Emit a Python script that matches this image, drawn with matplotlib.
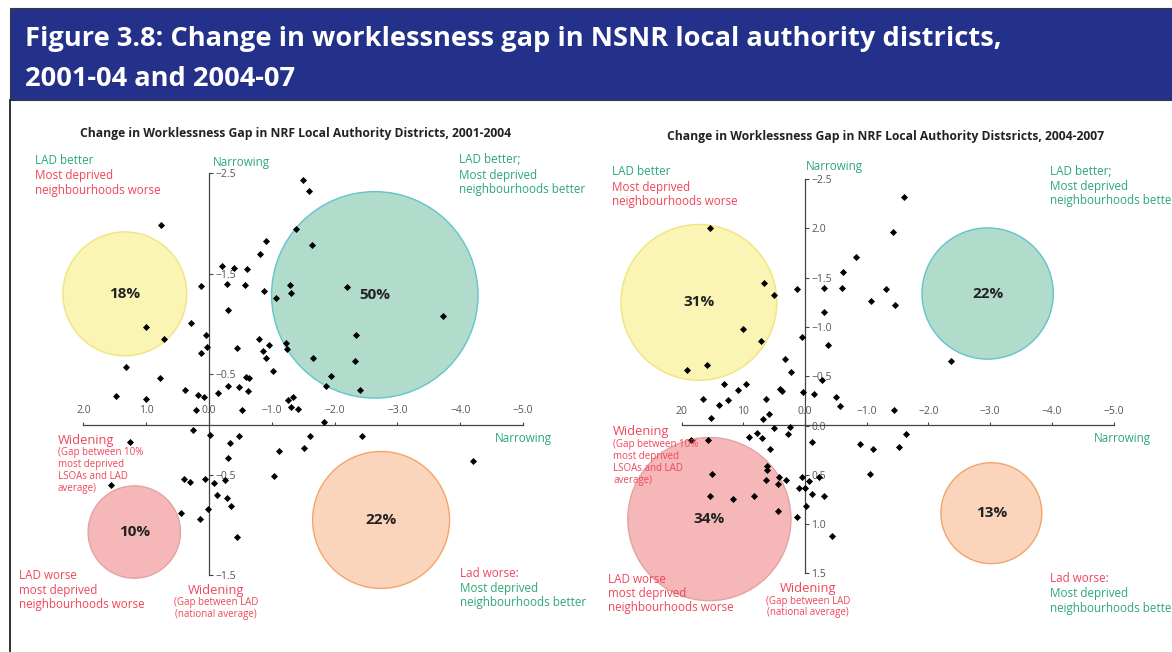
import matplotlib
matplotlib.use("Agg")
import matplotlib.pyplot as plt
from matplotlib.patches import Rectangle

# ---------------- data ----------------
title_lines = ["Figure 3.8: Change in worklessness gap in NSNR local authority districts,",
               "2001-04 and 2004-07"]
left_subtitle = "Change in Worklessness Gap in NRF Local Authority Districts, 2001-2004"
right_subtitle = "Change in Worklessness Gap in NRF Local Authority Distsricts, 2004-2007"

left_x = [-1.49, -1.59, -1.39, -1.64, -0.90, -0.82, -0.21, -0.40, -0.61, -0.28,
          -0.58, 0.13, -1.29, -1.30, -0.88, -1.06, -2.19, -0.30, -3.72, 0.29,
          0.05, 0.03, 0.13, -0.45, -0.80, -0.95, -0.86, -0.91, -1.22, -1.24,
          -2.34, -1.65, -2.32, -1.02, -1.94, -1.87, -2.40, -0.59, -0.64, -0.30,
          -0.47, -0.62, -0.14, 0.39, 0.18, 0.08, -1.33, -1.26, -1.30, -1.42,
          -0.53, 0.20, 0.76, 1.00, 0.72, 1.32, 0.78, 1.48, 1.00, 0.25,
          -0.02, -0.47, -0.34, 1.26, -1.11, -0.30, -1.04, 0.40, 0.30, 0.07,
          -0.08, -0.26, 1.56, -0.12, -0.29, -0.35, 0.44, 0.01, 0.14, -0.45,
          -1.83, -1.61, -2.44, -1.51, -4.20]
left_y = [-2.43, -2.32, -1.95, -1.79, -1.83, -1.70, -1.58, -1.56, -1.55, -1.40,
          -1.39, -1.38, -1.39, -1.31, -1.33, -1.26, -1.37, -1.14, -1.08, -1.01,
          -0.89, -0.77, -0.71, -0.76, -0.85, -0.79, -0.73, -0.66, -0.81, -0.75,
          -0.89, -0.66, -0.63, -0.53, -0.48, -0.38, -0.34, -0.47, -0.46, -0.38,
          -0.37, -0.33, -0.31, -0.34, -0.29, -0.27, -0.27, -0.24, -0.17, -0.15,
          -0.14, -0.14, -1.99, -0.97, -0.85, -0.57, -0.46, -0.28, -0.25, 0.05,
          0.10, 0.11, 0.18, 0.17, 0.26, 0.33, 0.51, 0.54, 0.57, 0.54,
          0.58, 0.55, 0.60, 0.70, 0.73, 0.81, 0.88, 0.84, 0.94, 1.12,
          -0.02, 0.11, 0.11, 0.23, 0.36]

right_x = [1.54, 0.67, 0.50, 0.13, 1.00, 0.71, 0.05, 0.32, 0.23, 1.92,
           1.59, 1.32, 0.95, 1.08, 1.25, 1.40, 1.65, 0.63, 0.40, 0.38,
           0.03, -0.14, 1.52, 0.58, 0.68, -1.61, -1.42, -0.83, -0.62, -0.60,
           -0.30, -1.32, -1.07, -1.46, -0.30, -0.37, -2.36, -0.27, -0.50, -0.57,
           -1.45, 0.24, 0.27, -1.63, -0.89, -1.11, -1.52, -1.06, -0.30, -0.44,
           0.50, 0.90, 0.78, 0.70, 1.84, 1.57, 0.56, -0.12, 0.62, 0.62,
           1.50, 0.63, 0.42, 0.31, 0.05, -0.07, -0.22, 0.43, 0.10, 0.00,
           1.54, 1.17, 0.82, -0.12, -0.02, 0.43, 0.13]
right_y = [-2.00, -1.45, -1.32, -1.39, -0.98, -0.86, -0.90, -0.68, -0.54, -0.56,
           -0.61, -0.42, -0.42, -0.36, -0.26, -0.21, -0.27, -0.27, -0.37, -0.35,
           -0.34, -0.32, -0.08, -0.12, -0.07, -2.32, -1.96, -1.71, -1.56, -1.40,
           -1.40, -1.39, -1.26, -1.22, -1.15, -0.82, -0.65, -0.46, -0.29, -0.20,
           -0.16, 0.02, 0.09, 0.09, 0.19, 0.24, 0.22, 0.49, 0.72, 1.12,
           0.03, 0.12, 0.08, 0.13, 0.15, 0.15, 0.24, 0.17, 0.41, 0.45,
           0.49, 0.55, 0.52, 0.55, 0.52, 0.56, 0.52, 0.59, 0.63, 0.63,
           0.72, 0.75, 0.72, 0.70, 0.82, 0.87, 0.93]

# quadrant bubbles: share of districts (%)
left_bubble_pct = [18, 50, 10, 22]
left_bubble_x = [1.34, -2.64, 1.19, -2.74]
left_bubble_y = [-1.30, -1.29, 1.07, 0.95]
right_bubble_pct = [31, 22, 34, 13]
right_bubble_x = [1.72, -2.96, 1.55, -3.02]
right_bubble_y = [-1.25, -1.34, 0.95, 0.89]

left_xticks = [2.0, 1.0, 0.0, -1.0, -2.0, -3.0, -4.0, -5.0]
left_xticklabels = ["2.0", "1.0", "0.0", "\u22121.0", "\u22122.0", "\u22123.0", "\u22124.0", "\u22125.0"]
left_yticks = [-2.5, -1.5, -0.5, 0.5, 1.5]
left_yticklabels = ["\u22122.5", "\u22121.5", "\u22120.5", "\u22120.5", "\u22121.5"]
right_xticks = [2.0, 1.0, 0.0, -1.0, -2.0, -3.0, -4.0, -5.0]
right_xticklabels = ["20", "10", "0.0", "\u22121.0", "\u22122.0", "\u22123.0", "\u22124.0", "\u22125.0"]
right_yticks = [-2.5, -2.0, -1.5, -1.0, -0.5, 0.0, 0.5, 1.0, 1.5]
right_yticklabels = ["\u22122.5", "2.0", "\u22121.5", "\u22121.0", "\u22120.5", "0.0", "0.5", "1.0", "1.5"]

# ---------------- style ----------------
W, H, DPI = 1172, 652, 100
plt.rcParams['font.family'] = ['Open Sans', 'DejaVu Sans']
GREEN = '#2ca878'
RED = '#ef4658'
NAVY = '#24318a'
TICK = '#555555'
BUB_FILL = ['#faf5b5', '#b1dccb', '#f6b7b8', '#fbd5bb']
BUB_EDGE = ['#f0e47c', '#62c4cc', '#e3a3a3', '#f4a46a']
LABEL_SIZE = 8.4
SMALL_SIZE = 7.0
WIDEN_SIZE = 9.3

fig = plt.figure(figsize=(W / DPI, H / DPI), dpi=DPI)


def fx(px):
    return px / W


def fy(py):
    return 1 - py / H


# background / frame
bg = fig.add_axes([0, 0, 1, 1])
bg.set_xlim(0, W)
bg.set_ylim(H, 0)
bg.axis('off')
bg.add_patch(Rectangle((10, 8), W - 9, 92, facecolor=NAVY, edgecolor='#3a3a3a', lw=0.8))
bg.plot([10, 10], [100, H], color='#222222', lw=1.3)

fig.text(fx(25), fy(46), title_lines[0], color='white', fontsize=19.6, fontweight='bold', va='baseline')
fig.text(fx(25), fy(86), title_lines[1], color='white', fontsize=19.6, fontweight='bold', va='baseline')


def panel(box, x0px, xs, y0px, ys, xs_data, ys_data, bx, by, bp, kscale,
          xticks, xlabels, yticks, ylabels):
    px0, px1, py0, py1 = box
    ax = fig.add_axes([fx(px0), fy(py1), (px1 - px0) / W, (py1 - py0) / H])
    ax.set_xlim((x0px - px0) / xs, (x0px - px1) / xs)
    ax.set_ylim((py1 - y0px) / ys, (py0 - y0px) / ys)
    ax.patch.set_visible(False)
    for s in ['left', 'bottom']:
        ax.spines[s].set_visible(False)
    ax.spines['top'].set_position(('data', 0))
    ax.spines['right'].set_position(('data', 0))
    ax.spines['top'].set_bounds(min(xticks), max(xticks))
    ax.spines['right'].set_bounds(min(yticks), max(yticks))
    for s in ['top', 'right']:
        ax.spines[s].set_color('#444444')
        ax.spines[s].set_linewidth(0.9)
    ax.xaxis.set_ticks_position('top')
    ax.yaxis.set_ticks_position('right')
    ax.set_xticks(xticks)
    ax.set_xticklabels(xlabels)
    ax.set_yticks(yticks)
    ax.set_yticklabels(ylabels)
    ax.tick_params(axis='x', direction='out', length=2.5, width=0.8, color='#444444',
                   pad=3.5, labelsize=7.5, labelcolor=TICK)
    ax.tick_params(axis='y', direction='out', length=3, width=0.8, color='#444444',
                   pad=1.5, labelsize=7.5, labelcolor=TICK)
    ax.scatter(bx, by, s=[kscale * p for p in bp], c=BUB_FILL, edgecolors=BUB_EDGE,
               linewidths=1.0, zorder=1, clip_on=False)
    for x, y, p in zip(bx, by, bp):
        ax.text(x, y, f"{p}%", ha='center', va='center', fontsize=11,
                fontweight='bold', color='#222222', zorder=4)
    ax.scatter(xs_data, ys_data, marker='D', s=13, c='black', linewidths=0, zorder=3)
    return ax


panel((20, 565, 150, 640), 209, 62.8, 424.5, 100.5, left_x, left_y,
      left_bubble_x, left_bubble_y, left_bubble_pct, 442,
      left_xticks, left_xticklabels, left_yticks, left_yticklabels)
panel((590, 1172, 150, 640), 805, 61.7, 425.5, 98.5, right_x, right_y,
      right_bubble_x, right_bubble_y, right_bubble_pct, 406,
      right_xticks, right_xticklabels, right_yticks, right_yticklabels)

fig.text(fx(296), fy(137), left_subtitle, ha='center', va='baseline', fontsize=8.7,
         fontweight='bold', color='#222222')
fig.text(fx(886), fy(140), right_subtitle, ha='center', va='baseline', fontsize=8.7,
         fontweight='bold', color='#222222')


def lines(px, baselines, items, size=LABEL_SIZE, ha='left'):
    for py, (txt, col) in zip(baselines, items):
        fig.text(fx(px), fy(py), txt, color=col, fontsize=size, va='baseline', ha=ha)


# left panel annotations
lines(35, [164, 179, 194], [("LAD better", GREEN), ("Most deprived", RED), ("neighbourhoods worse", RED)])
lines(213, [166], [("Narrowing", GREEN)])
lines(459, [163, 179, 193], [("LAD better;", GREEN), ("Most deprived", GREEN), ("neighbourhoods better", GREEN)])
lines(495, [442], [("Narrowing", GREEN)])
lines(58, [444], [("Widening", RED)], size=WIDEN_SIZE)
lines(58, [455, 467, 479, 491], [("(Gap between 10%", RED), ("most deprived", RED),
                                 ("LSOAs and LAD", RED), ("average)", RED)], size=SMALL_SIZE)
lines(19, [579, 594, 608], [("LAD worse", RED), ("most deprived", RED), ("neighbourhoods worse", RED)])
lines(216, [594], [("Widening", RED)], size=WIDEN_SIZE, ha='center')
lines(216, [605, 617], [("(Gap between LAD", RED), ("(national average)", RED)], size=SMALL_SIZE, ha='center')
lines(460, [577, 592, 606], [("Lad worse:", RED), ("Most deprived", GREEN), ("neighbourhoods better", GREEN)])

# right panel annotations
lines(612, [175, 190.5, 205], [("LAD better", GREEN), ("Most deprived", RED), ("neighbourhoods worse", RED)])
lines(806, [170], [("Narrowing", GREEN)])
lines(1050, [175, 190, 204], [("LAD better;", GREEN), ("Most deprived", GREEN), ("neighbourhoods better", GREEN)])
lines(1094, [442], [("Narrowing", GREEN)])
lines(613, [435], [("Widening", RED)], size=WIDEN_SIZE)
lines(613, [447, 459, 471, 483], [("(Gap between 10%", RED), ("most deprived", RED),
                                  ("LSOAs and LAD", RED), ("average)", RED)], size=SMALL_SIZE)
lines(608, [583, 597, 611], [("LAD worse", RED), ("most deprived", RED), ("neighbourhoods worse", RED)])
lines(808, [592], [("Widening", RED)], size=WIDEN_SIZE, ha='center')
lines(808, [604, 615], [("(Gap between LAD", RED), ("(national average)", RED)], size=SMALL_SIZE, ha='center')
lines(1050, [582, 597, 612], [("Lad worse:", RED), ("Most deprived", GREEN), ("neighbourhoods better", GREEN)])

fig.savefig("out.png", dpi=DPI)
